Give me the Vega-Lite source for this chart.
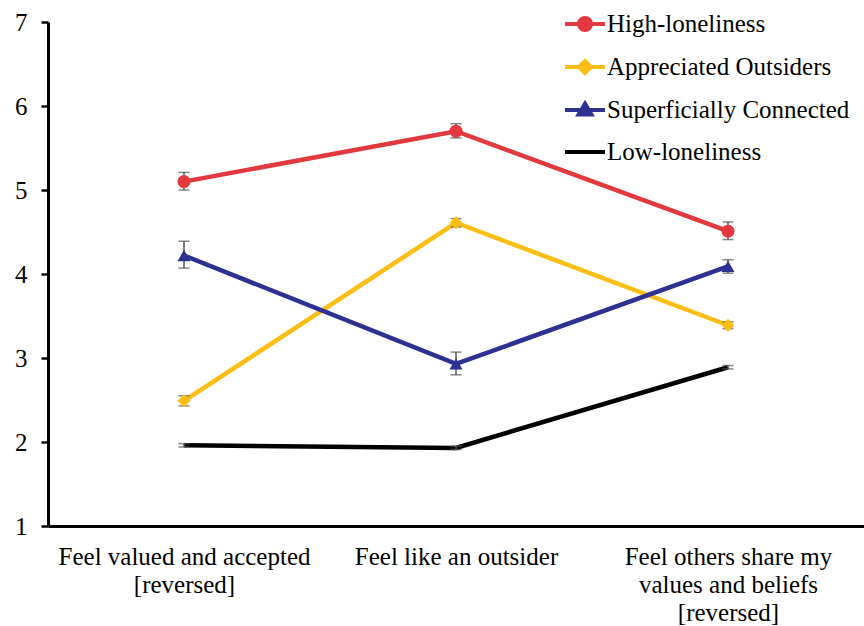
{
  "$schema": "https://vega.github.io/schema/vega-lite/v6.json",
  "width": 816,
  "height": 504,
  "autosize": {"type": "none"},
  "padding": {"left": 48, "top": 22, "right": 0, "bottom": 100},
  "background": "white",
  "config": {
    "view": {"stroke": null},
    "font": "Liberation Serif"
  },
  "data": {
    "values": [
      {"group": "High-loneliness", "item": "Feel valued and accepted|[reversed]", "mean": 5.1, "lo": 5.0, "hi": 5.21},
      {"group": "High-loneliness", "item": "Feel like an outsider", "mean": 5.7, "lo": 5.62, "hi": 5.79},
      {"group": "High-loneliness", "item": "Feel others share my|values and beliefs|[reversed]", "mean": 4.51, "lo": 4.41, "hi": 4.62},
      {"group": "Appreciated Outsiders", "item": "Feel valued and accepted|[reversed]", "mean": 2.49, "lo": 2.43, "hi": 2.55},
      {"group": "Appreciated Outsiders", "item": "Feel like an outsider", "mean": 4.61, "lo": 4.56, "hi": 4.66},
      {"group": "Appreciated Outsiders", "item": "Feel others share my|values and beliefs|[reversed]", "mean": 3.39, "lo": 3.35, "hi": 3.43},
      {"group": "Superficially Connected", "item": "Feel valued and accepted|[reversed]", "mean": 4.22, "lo": 4.07, "hi": 4.39},
      {"group": "Superficially Connected", "item": "Feel like an outsider", "mean": 2.93, "lo": 2.8, "hi": 3.07},
      {"group": "Superficially Connected", "item": "Feel others share my|values and beliefs|[reversed]", "mean": 4.09, "lo": 4.01, "hi": 4.17},
      {"group": "Low-loneliness", "item": "Feel valued and accepted|[reversed]", "mean": 1.96, "lo": 1.94, "hi": 1.98},
      {"group": "Low-loneliness", "item": "Feel like an outsider", "mean": 1.93, "lo": 1.91, "hi": 1.95},
      {"group": "Low-loneliness", "item": "Feel others share my|values and beliefs|[reversed]", "mean": 2.89, "lo": 2.87, "hi": 2.91}
    ]
  },
  "encoding": {
    "x": {
      "field": "item",
      "type": "nominal",
      "sort": null,
      "scale": {"type": "point", "padding": 0.5},
      "axis": {
        "title": null,
        "labelAngle": 0,
        "labelExpr": "split(datum.label, '|')",
        "labelFont": "Liberation Serif",
        "labelFontSize": 25,
        "labelColor": "black",
        "labelLineHeight": 28,
        "labelBaseline": "top",
        "labelPadding": 18,
        "labelLimit": 0,
        "ticks": false,
        "domainColor": "black",
        "domainWidth": 3,
        "grid": false,
        "labelOverlap": false,
        "labelBound": false
      }
    }
  },
  "layer": [
    {
      "mark": {"type": "line", "strokeWidth": 4.5},
      "encoding": {
        "y": {
          "field": "mean",
          "type": "quantitative",
          "scale": {"domain": [1, 7], "nice": false, "zero": false},
          "axis": {
            "title": null,
            "values": [1, 2, 3, 4, 5, 6, 7],
            "format": "d",
            "grid": false,
            "labelFont": "Liberation Serif",
            "labelFontSize": 25,
            "labelColor": "black",
            "labelPadding": 14,
            "tickSize": 7,
            "tickWidth": 2.5,
            "tickColor": "black",
            "domainColor": "black",
            "domainWidth": 3
          }
        },
        "color": {
          "field": "group",
          "type": "nominal",
          "scale": {
            "domain": ["High-loneliness", "Appreciated Outsiders", "Superficially Connected", "Low-loneliness"],
            "range": ["#E2383F", "#FDBE14", "#2E3192", "#000000"]
          },
          "legend": {
            "title": null,
            "orient": "none",
            "legendX": 515,
            "legendY": -20,
            "padding": 0,
            "symbolSize": 1600,
            "symbolStrokeWidth": 4,
            "rowPadding": 7,
            "labelFont": "Liberation Serif",
            "labelFontSize": 25,
            "labelColor": "black",
            "labelOffset": 0,
            "labelLimit": 400,
            "encode": {
              "symbols": {
                "update": {
                  "shape": {"signal": "datum.value === 'High-loneliness' ? 'M-1,0H1M0.3,0A0.3,0.3 0 1,1 -0.3,0A0.3,0.3 0 1,1 0.3,0Z' : datum.value === 'Appreciated Outsiders' ? 'M-1,0H1M0,-0.3L0.3,0L0,0.3L-0.3,0Z' : datum.value === 'Superficially Connected' ? 'M-1,0H1M0,-0.32L0.32,0.22L-0.32,0.22Z' : 'M-1,0H1'"},
                  "fill": {"scale": "color", "field": "value"},
                  "stroke": {"scale": "color", "field": "value"},
                  "strokeWidth": {"value": 4},
                  "fillOpacity": {"value": 1},
                  "opacity": {"value": 1}
                }
              }
            }
          }
        }
      }
    },
    {
      "mark": {"type": "rule", "color": "#555555", "strokeWidth": 1.5},
      "encoding": {
        "y": {"field": "lo", "type": "quantitative"},
        "y2": {"field": "hi"}
      }
    },
    {
      "mark": {"type": "tick", "color": "#555555", "size": 11, "thickness": 1.5},
      "encoding": {
        "y": {"field": "lo", "type": "quantitative"}
      }
    },
    {
      "mark": {"type": "tick", "color": "#555555", "size": 11, "thickness": 1.5},
      "encoding": {
        "y": {"field": "hi", "type": "quantitative"}
      }
    },
    {
      "transform": [{"filter": "datum.group !== 'Low-loneliness'"}],
      "mark": {"type": "point", "filled": true, "opacity": 1, "size": 170},
      "encoding": {
        "y": {"field": "mean", "type": "quantitative"},
        "color": {"field": "group", "type": "nominal"},
        "shape": {
          "field": "group",
          "type": "nominal",
          "scale": {
            "domain": ["High-loneliness", "Appreciated Outsiders", "Superficially Connected"],
            "range": ["circle", "diamond", "triangle-up"]
          },
          "legend": null
        }
      }
    }
  ]
}
